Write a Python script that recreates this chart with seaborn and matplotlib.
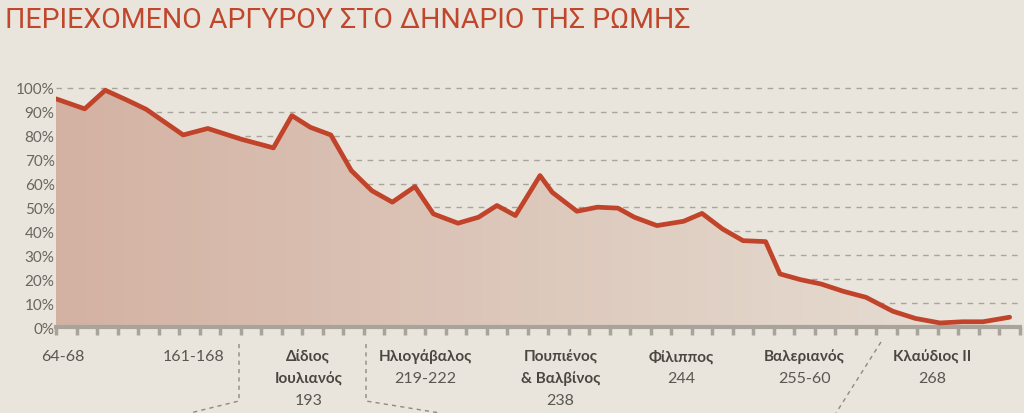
import numpy as np
import pandas as pd
import matplotlib
matplotlib.use("Agg")
import matplotlib.pyplot as plt
import seaborn as sns
from matplotlib.lines import Line2D

period = [0, 1.4, 2.4, 3.5, 4.4, 6.2, 7.4, 9.0, 10.6, 11.5, 12.4, 13.4, 14.4, 15.4, 16.4,
          17.5, 18.4, 19.6, 20.6, 21.5, 22.4, 23.6, 24.2, 25.4, 26.4, 27.4, 28.2, 29.3,
          30.6, 31.5, 32.5, 33.5, 34.6, 35.3, 36.3, 37.3, 38.4, 39.5, 40.8, 41.9, 43.1,
          44.2, 45.2, 46.5]
silver = [95.4, 91.2, 99, 94.7, 91, 80.3, 83, 78.6, 74.9, 88.4, 83.5, 80.3, 65.4, 57,
          52.2, 58.7, 47.3, 43.4, 45.9, 50.8, 46.6, 63.3, 56.3, 48.4, 50.1, 49.7, 45.9,
          42.4, 44.2, 47.5, 41, 36.1, 35.7, 22.2, 19.8, 18, 14.9, 12.4, 6.6, 3.6, 1.7,
          2.2, 2.2, 4.1]
label_pos = [0.35, 6.7, 12.3, 18.0, 24.6, 30.5, 36.5, 42.7]
label_name = [[], [], ["Δίδιος", "Ιουλιανός"], ["Ηλιογάβαλος"], ["Πουπιένος", "& Βαλβίνος"],
              ["Φίλιππος"], ["Βαλεριανός"], ["Κλαύδιος ΙΙ"]]
label_year = ["64-68", "161-168", "193", "219-222", "238", "244", "255-60", "268"]
yticks = list(range(0, 101, 10))

sns.set_theme(style="white")
plt.rcParams['font.family'] = ['Lato', 'DejaVu Sans']
bg = "#e9e5dc"
red = "#c0432a"
grey = "#5a5650"

df = pd.DataFrame({"period": period, "silver": silver})
fig = plt.figure(figsize=(10.24, 4.14), dpi=100, facecolor=bg)
ax = fig.add_axes([0.0547, 0.2077, 0.9413, 0.5893])
ax.set_facecolor(bg)
ax.set_xlim(0, 47)
ax.set_ylim(0, 102)

poly = ax.fill_between(df["period"], df["silver"], 0, color="none")
grad = np.linspace(0.45, 0.05, 256).reshape(1, -1)
cmap = matplotlib.colors.LinearSegmentedColormap.from_list("g", [bg, "#b9735c"])
im = ax.imshow(grad, extent=[0, 47, 0, 102], aspect="auto", cmap=cmap, vmin=0, vmax=1,
               origin="lower", zorder=1)
im.set_clip_path(poly.get_paths()[0], transform=ax.transData)

for y in yticks[1:]:
    ax.axhline(y, color="#a9a49b", lw=1, ls=(0, (4, 4)), zorder=0.5)

sns.lineplot(data=df, x="period", y="silver", ax=ax, color=red, lw=3.4, zorder=3)

ax.set_yticks(yticks)
ax.set_yticklabels([f"{v}%" for v in yticks], color="#6a665f", fontsize=11)
ax.set_xticks(np.arange(0, 48, 1))
ax.set_xticklabels([])
ax.tick_params(axis="x", bottom=True, direction="out", length=6, width=2.5,
               color="#a9a49b", pad=0)
ax.tick_params(axis="y", length=0, pad=1)
ax.set_xlabel("")
ax.set_ylabel("")
for s in ["top", "right", "left"]:
    ax.spines[s].set_visible(False)
ax.spines["bottom"].set_color("#a9a49b")
ax.spines["bottom"].set_linewidth(3)

line_y = [357, 379, 401]
for p, n, yr in zip(label_pos, label_name, label_year):
    xf = ax.transData.transform((p, 0))[0] / fig.bbox.width
    for i, t in enumerate(n):
        fig.text(xf, 1 - line_y[i] / 414, t, ha="center", va="center", fontsize=11,
                 color="#4a4640", fontweight="bold")
    fig.text(xf, 1 - line_y[len(n)] / 414, yr, ha="center", va="center", fontsize=11.5,
             color=grey)

def fl(xs, ys):
    fig.add_artist(Line2D([x / 1024 for x in xs], [1 - y / 414 for y in ys],
                          color="#8e8a83", lw=1, ls=(0, (3, 3))))
fl([239, 239, 190], [345, 402, 414])
fl([366, 366, 440], [345, 402, 414])
fl([881, 836], [343, 414])

fig.text(0.005, 0.95, "ΠΕΡΙΕΧΟΜΕΝΟ ΑΡΓΥΡΟΥ ΣΤΟ ΔΗΝΑΡΙΟ ΤΗΣ ΡΩΜΗΣ", color="#c0462c",
         fontsize=20.5, ha="left", va="center",
         family=["Roboto", "DejaVu Sans"])

fig.savefig("out.png", dpi=100, facecolor=bg)
